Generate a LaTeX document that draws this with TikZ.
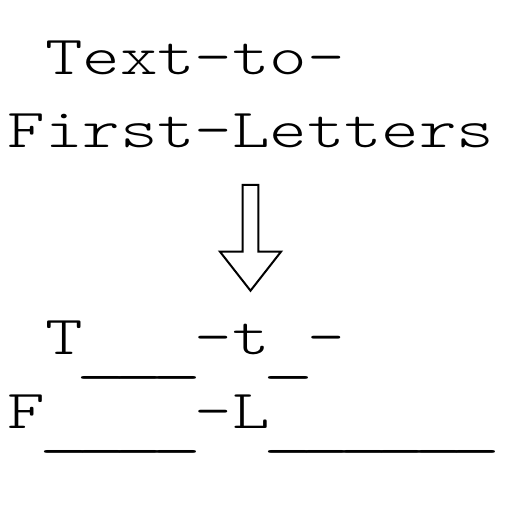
\documentclass[tikz,border=0pt]{standalone}
\usepackage{fontspec}
\usepackage{graphicx}
\newfontfamily\monofont{lmmonolt10-regular.otf}
\newcommand\cc[1]{\makebox[37.4pt][c]{\scalebox{1.3}[1]{#1}}}
\newcommand\uu{\makebox[37.4pt][c]{\raisebox{-15pt}{\scalebox{1.8}[1]{\_}}}}
\begin{document}
\begin{tikzpicture}[x=1pt,y=1pt,
  linetext/.style={anchor=base west,inner sep=0pt,outer sep=0pt,font=\monofont\fontsize{55}{55}\selectfont},
  hollowarrow/.style={draw=black,line width=2pt,fill=white,line join=miter}]
\useasboundingbox (0,0) rectangle (512,512);
\node[linetext] (t1) at (8,437) {\cc{}\cc{T}\cc{e}\cc{x}\cc{t}\cc{-}\cc{t}\cc{o}\cc{-}};
\node[linetext] (t2) at (8,364) {\cc{F}\cc{i}\cc{r}\cc{s}\cc{t}\cc{-}\cc{L}\cc{e}\cc{t}\cc{t}\cc{e}\cc{r}\cc{s}};
\node[linetext] (t3) at (8,157) {\cc{}\cc{T}\uu\uu\uu\cc{-}\cc{t}\uu\cc{-}};
\node[linetext] (t4) at (8,83) {\cc{F}\uu\uu\uu\uu\cc{-}\cc{L}\uu\uu\uu\uu\uu\uu};
\draw[hollowarrow] (242.7,327) -- (258.3,327) -- (258.3,260.3) -- (281,260.3) -- (250.5,221.3) -- (220,260.3) -- (242.7,260.3) -- cycle;
\end{tikzpicture}
\end{document}
